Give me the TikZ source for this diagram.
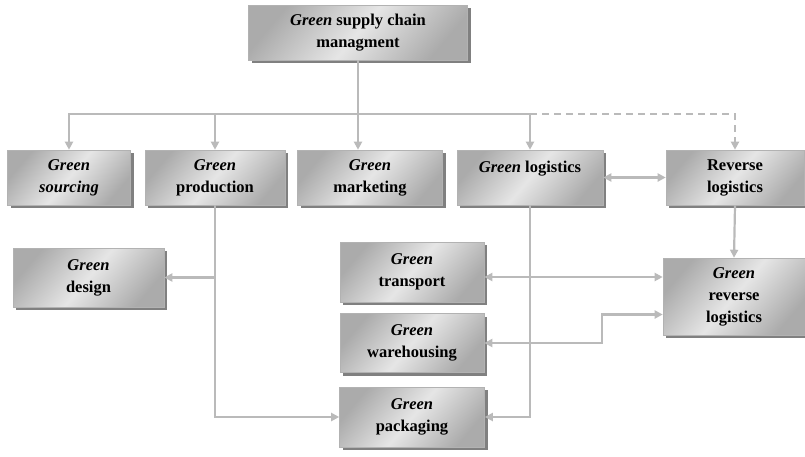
\documentclass[tikz,border=0pt]{standalone}
\usepackage{fontspec}
\setmainfont{Liberation Serif}
\usetikzlibrary{arrows.meta,shadows}
\tikzset{>={Triangle[length=8pt,width=8pt]}}
\tikzstyle{box} = [draw=black!30, line width=0.6pt, left color=black!33, right color=black!33, middle color=black!10, shading angle=50, drop shadow={shadow xshift=3pt, shadow yshift=-3pt, fill=black!50, opacity=1}, align=center, inner sep=0pt, font=\fontsize{16.5}{22}\selectfont\bfseries]
\tikzstyle{line} = [draw, black!27, line width=2.2pt]
\tikzstyle{arrow} = [line, ->]

\begin{document}
\begin{tikzpicture}[x=1pt, y=-1pt]
\useasboundingbox (0,0) rectangle (805,456);

\node [box, minimum width=219, minimum height=55] at (358,32.5) (scm) {\textit{Green} supply chain\\managment};

% first row
\node [box, minimum width=123, minimum height=55] at (69,177.5) (sourcing) {\textit{Green}\\\textit{sourcing}};
\node [box, minimum width=140, minimum height=55] at (215,177.5) (production) {\textit{Green}\\production};
\node [box, minimum width=145, minimum height=55] at (370,177.5) (marketing) {\textit{Green}\\marketing};
\node [box, minimum width=146, minimum height=55] at (530,177.5) (logistics) {\textit{Green} logistics\\\mbox{}};
\node [box, minimum width=138, minimum height=55] at (735,177.5) (reverse) {Reverse\\logistics};

% second row
\node [box, minimum width=151, minimum height=59] at (88.5,277.5) (design) {\textit{Green}\\design};
\node [box, minimum width=144, minimum height=60] at (412,272) (transport) {\textit{Green}\\transport};
\node [box, minimum width=144, minimum height=59] at (412,343) (warehousing) {\textit{Green}\\warehousing};
\node [box, minimum width=145, minimum height=60] at (412,417) (packaging) {\textit{Green}\\packaging};
\node [box, minimum width=142, minimum height=77] at (734,296.5) (grl) {\textit{Green}\\reverse\\logistics};

\coordinate (split) at (358,114);
\path [line] (scm.south) -- (split);
\path [arrow] (split) -| (sourcing.north);
\path [arrow] (split) -| (production.north);
\path [arrow] (split) -- (split |- marketing.north);
\path [arrow] (split) -| (logistics.north);
\path [arrow, dashed, dash pattern=on 7pt off 5pt] (logistics.north |- split) -| (reverse.north);

\path [arrow, <->] (logistics.east) -- (reverse.west);
\path [arrow] (reverse.south) -- (grl.north);

\path [arrow] (production.south |- design.east) -- (design.east);
\path [arrow] (production.south) |- (packaging.west);
\path [arrow] (logistics.south) |- (packaging.east);

\coordinate (tr) at ([yshift=-5pt]transport.east);
\path [arrow, <->] (tr) -- (tr -| grl.west);
\coordinate (gr) at ([yshift=-18pt]grl.west);
\path [arrow, <->] (warehousing.east) -- ++(118,0) |- (gr);
\end{tikzpicture}
\end{document}
